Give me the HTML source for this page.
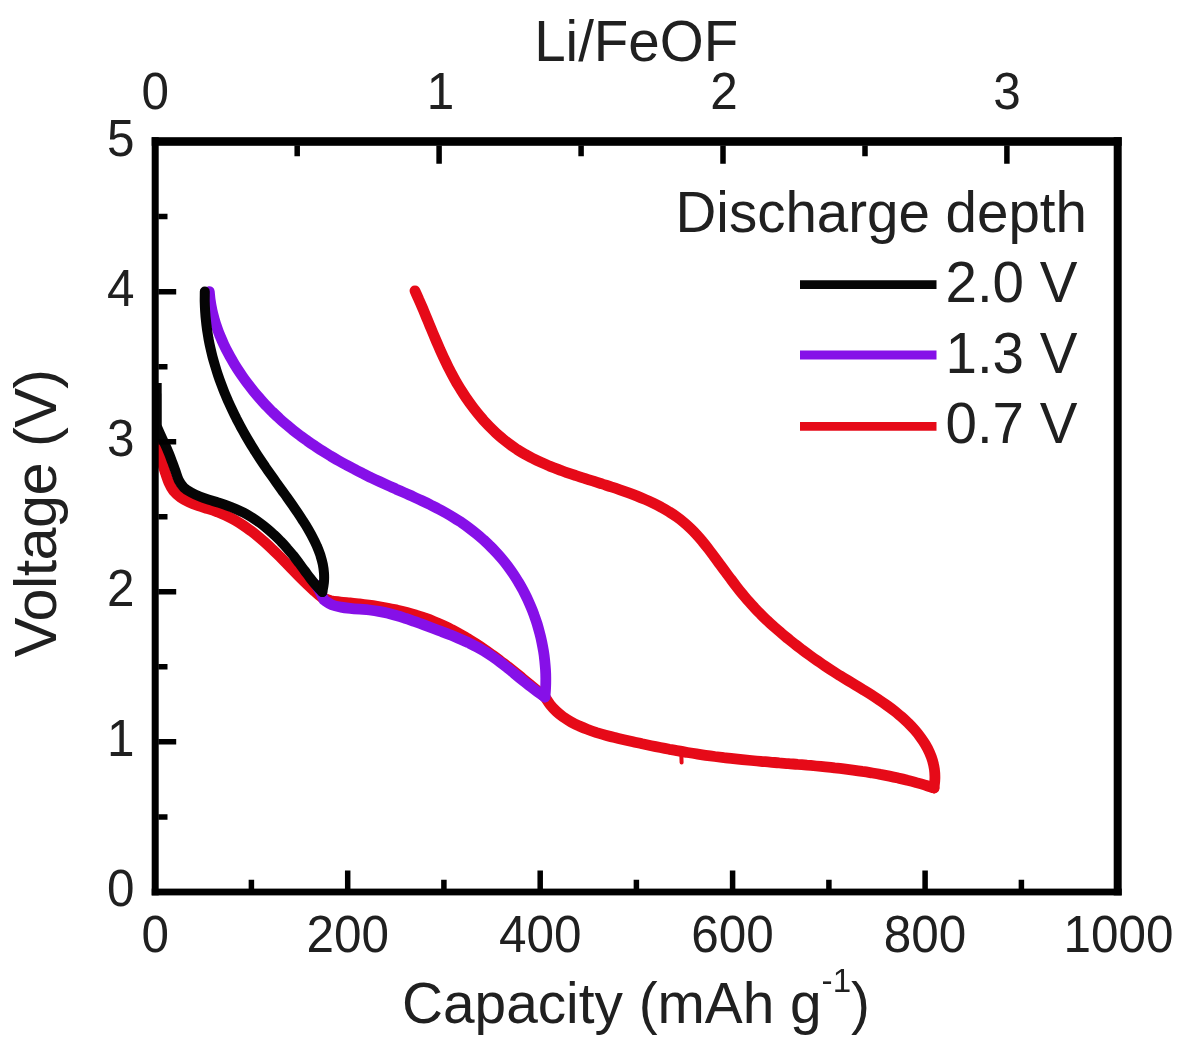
<!DOCTYPE html>
<html lang="en"><head><meta charset="utf-8"><title>Li/FeOF voltage profiles</title>
<style>html,body{margin:0;padding:0;background:#fff}body{width:1181px;height:1049px;overflow:hidden}svg{display:block;filter:blur(0.55px)}text{font-family:"Liberation Sans", sans-serif;fill:#202020}</style></head><body>
<svg width="1181" height="1049" viewBox="0 0 1181 1049">
<rect width="1181" height="1049" fill="#fff"/>
<g fill="none" stroke-linecap="round" stroke-linejoin="round">
<path stroke="#e60a18" stroke-width="10.8" d="M158.3 445.0 C158.6 446.6 159.5 451.4 160.3 454.6 C161.0 457.7 161.9 460.8 162.8 464.0 C163.6 467.1 164.6 470.2 165.6 473.3 C166.7 476.4 167.6 479.6 168.9 482.5 C170.2 485.4 171.6 488.4 173.6 490.9 C175.6 493.3 178.1 495.5 180.7 497.4 C183.3 499.3 186.2 500.8 189.2 502.2 C192.1 503.5 195.2 504.6 198.3 505.7 C201.4 506.8 204.7 507.7 207.8 508.7 C211.0 509.7 214.1 510.7 217.2 511.8 C220.3 513.0 223.3 514.3 226.2 515.6 C229.1 517.0 232.0 518.5 234.8 520.1 C237.6 521.7 240.3 523.4 243.0 525.2 C245.7 527.0 248.3 528.9 250.9 530.8 C253.5 532.8 256.0 534.8 258.5 536.9 C261.0 539.0 263.5 541.1 265.9 543.3 C268.3 545.5 270.7 547.7 273.0 550.0 C275.4 552.2 277.7 554.5 280.0 556.8 C282.3 559.2 284.5 561.5 286.8 563.8 C289.1 566.2 291.3 568.5 293.6 570.8 C295.9 573.2 298.1 575.5 300.4 577.8 C302.7 580.1 305.0 582.4 307.4 584.6 C309.7 586.8 312.1 589.0 314.5 591.2 C317.0 593.3 320.8 596.4 322.0 597.5 C323.5 598.0 327.9 599.9 330.9 600.7 C334.0 601.4 337.2 601.6 340.4 602.0 C343.6 602.4 346.8 602.6 349.9 602.9 C353.1 603.3 356.3 603.6 359.4 603.9 C362.6 604.3 365.7 604.7 368.9 605.1 C372.1 605.5 375.3 606.0 378.4 606.5 C381.6 607.0 384.8 607.6 388.0 608.2 C391.2 608.8 394.3 609.5 397.5 610.2 C400.6 610.9 403.8 611.7 406.9 612.5 C410.0 613.3 413.2 614.2 416.2 615.2 C419.3 616.1 422.4 617.2 425.4 618.2 C428.5 619.3 431.5 620.5 434.4 621.7 C437.4 622.9 440.3 624.2 443.2 625.5 C446.1 626.8 449.0 628.2 451.8 629.7 C454.6 631.1 457.5 632.7 460.2 634.2 C463.0 635.8 465.8 637.4 468.5 639.0 C471.2 640.7 473.9 642.4 476.6 644.1 C479.3 645.8 481.9 647.6 484.5 649.4 C487.2 651.2 489.8 653.1 492.4 655.0 C495.0 656.8 497.6 658.8 500.1 660.7 C502.7 662.6 505.2 664.6 507.8 666.5 C510.3 668.5 512.8 670.5 515.3 672.5 C517.8 674.5 520.3 676.6 522.8 678.6 C525.3 680.6 527.8 682.7 530.2 684.7 C532.7 686.8 535.2 688.8 537.6 690.9 C540.1 692.9 543.8 696.0 545.0 697.0 C545.9 698.3 548.4 702.4 550.3 704.8 C552.2 707.2 554.3 709.4 556.5 711.5 C558.7 713.6 561.1 715.4 563.5 717.2 C565.9 718.9 568.5 720.5 571.1 722.0 C573.8 723.5 576.5 724.8 579.3 726.0 C582.1 727.3 584.9 728.5 587.8 729.5 C590.7 730.6 593.6 731.6 596.6 732.6 C599.6 733.5 602.6 734.4 605.6 735.2 C608.6 736.0 611.6 736.8 614.7 737.5 C617.7 738.3 620.8 739.0 623.9 739.7 C626.9 740.4 630.0 741.1 633.0 741.8 C636.0 742.5 639.1 743.1 642.1 743.8 C645.1 744.4 648.2 745.1 651.2 745.7 C654.2 746.3 657.3 746.9 660.3 747.5 C663.3 748.1 666.3 748.7 669.3 749.3 C672.4 749.8 675.4 750.4 678.4 750.9 C681.4 751.5 684.5 752.0 687.5 752.5 C690.5 753.0 693.5 753.5 696.5 753.9 C699.6 754.4 702.6 754.9 705.6 755.3 C708.7 755.7 711.7 756.1 714.8 756.5 C717.8 756.9 720.8 757.3 723.9 757.7 C726.9 758.0 730.0 758.4 733.1 758.7 C736.1 759.0 739.2 759.3 742.3 759.6 C745.3 759.9 748.4 760.2 751.5 760.5 C754.5 760.8 757.6 761.1 760.7 761.3 C763.8 761.6 766.9 761.8 769.9 762.1 C773.0 762.4 776.1 762.6 779.2 762.9 C782.3 763.1 785.4 763.4 788.4 763.6 C791.5 763.9 794.6 764.1 797.7 764.4 C800.8 764.6 803.9 764.9 806.9 765.2 C810.0 765.4 813.1 765.7 816.2 766.0 C819.3 766.3 822.3 766.6 825.4 766.9 C828.5 767.2 831.6 767.5 834.6 767.9 C837.7 768.2 840.8 768.5 843.8 768.9 C846.9 769.3 850.0 769.7 853.0 770.1 C856.1 770.5 859.1 770.9 862.2 771.4 C865.2 771.8 868.3 772.3 871.3 772.8 C874.3 773.3 877.4 773.8 880.4 774.4 C883.4 774.9 886.4 775.5 889.4 776.1 C892.4 776.7 895.5 777.4 898.4 778.1 C901.4 778.7 904.4 779.4 907.4 780.2 C910.4 780.9 913.4 781.7 916.3 782.6 C919.3 783.4 922.2 784.2 925.2 785.1 C928.1 786.1 932.5 787.5 934.0 788.0"/>
<path stroke="#e60a18" stroke-width="10.8" d="M934.0 788.0 C934.2 786.4 934.9 781.6 934.9 778.4 C935.0 775.3 934.8 772.3 934.4 769.3 C934.0 766.3 933.3 763.4 932.5 760.6 C931.7 757.7 930.6 755.0 929.4 752.3 C928.2 749.6 926.8 746.9 925.3 744.4 C923.8 741.8 922.1 739.3 920.3 736.9 C918.5 734.4 916.6 732.1 914.6 729.8 C912.6 727.5 910.5 725.3 908.3 723.1 C906.1 721.0 903.9 718.9 901.6 716.9 C899.2 714.9 896.9 712.9 894.5 711.0 C892.1 709.1 889.6 707.3 887.1 705.5 C884.6 703.7 882.1 701.9 879.5 700.2 C876.9 698.4 874.3 696.8 871.7 695.1 C869.1 693.4 866.5 691.8 863.8 690.2 C861.2 688.5 858.5 686.9 855.9 685.3 C853.2 683.7 850.6 682.1 847.9 680.5 C845.3 678.9 842.6 677.3 840.0 675.7 C837.4 674.0 834.8 672.4 832.2 670.7 C829.7 669.1 827.1 667.4 824.6 665.7 C822.0 664.0 819.5 662.2 817.0 660.5 C814.5 658.8 812.0 657.0 809.6 655.2 C807.1 653.4 804.7 651.6 802.3 649.8 C799.8 647.9 797.4 646.1 795.0 644.2 C792.6 642.4 790.3 640.5 787.9 638.6 C785.5 636.6 783.2 634.7 780.9 632.7 C778.6 630.8 776.3 628.8 774.0 626.8 C771.7 624.7 769.5 622.7 767.2 620.6 C765.0 618.5 762.8 616.4 760.7 614.2 C758.5 612.1 756.4 609.9 754.3 607.6 C752.2 605.4 750.2 603.1 748.2 600.8 C746.1 598.5 744.2 596.1 742.2 593.7 C740.2 591.3 738.3 588.9 736.4 586.4 C734.5 584.0 732.6 581.5 730.8 579.0 C728.9 576.6 727.0 574.1 725.2 571.5 C723.3 569.0 721.5 566.5 719.6 564.0 C717.8 561.5 716.0 559.0 714.1 556.5 C712.2 554.0 710.4 551.4 708.5 549.0 C706.6 546.5 704.7 544.1 702.7 541.7 C700.8 539.3 698.8 537.0 696.8 534.8 C694.7 532.5 692.6 530.3 690.5 528.3 C688.3 526.2 686.1 524.2 683.8 522.3 C681.5 520.4 679.2 518.6 676.8 516.9 C674.4 515.2 671.9 513.5 669.4 512.0 C666.9 510.4 664.3 508.9 661.7 507.5 C659.1 506.0 656.5 504.7 653.8 503.4 C651.1 502.1 648.4 500.8 645.6 499.6 C642.8 498.4 640.0 497.2 637.2 496.1 C634.4 495.0 631.5 493.9 628.7 492.9 C625.8 491.8 622.9 490.8 620.0 489.8 C617.1 488.8 614.1 487.8 611.2 486.9 C608.3 485.9 605.3 485.0 602.3 484.0 C599.4 483.1 596.4 482.2 593.5 481.2 C590.5 480.3 587.5 479.4 584.6 478.4 C581.6 477.5 578.6 476.5 575.7 475.5 C572.8 474.6 569.8 473.6 566.9 472.6 C564.0 471.5 561.1 470.5 558.2 469.4 C555.3 468.3 552.5 467.2 549.6 466.1 C546.8 464.9 544.0 463.7 541.2 462.4 C538.5 461.2 535.7 459.9 533.0 458.5 C530.3 457.2 527.7 455.7 525.0 454.2 C522.4 452.8 519.8 451.2 517.3 449.6 C514.8 447.9 512.3 446.2 509.9 444.4 C507.5 442.6 505.1 440.8 502.8 438.9 C500.5 436.9 498.2 434.9 496.0 432.9 C493.7 430.8 491.6 428.7 489.4 426.5 C487.3 424.4 485.3 422.1 483.2 419.9 C481.2 417.6 479.2 415.3 477.3 412.9 C475.4 410.5 473.5 408.1 471.7 405.6 C469.8 403.2 468.1 400.7 466.3 398.1 C464.6 395.6 462.9 393.0 461.3 390.4 C459.7 387.8 458.1 385.2 456.5 382.6 C455.0 379.9 453.5 377.2 452.1 374.5 C450.6 371.9 449.3 369.1 447.9 366.4 C446.5 363.7 445.2 360.9 443.9 358.2 C442.6 355.4 441.4 352.6 440.1 349.9 C438.9 347.1 437.7 344.3 436.5 341.5 C435.3 338.7 434.1 335.9 432.9 333.0 C431.7 330.2 430.6 327.4 429.4 324.6 C428.2 321.8 427.1 318.9 425.9 316.1 C424.7 313.3 423.6 310.5 422.4 307.6 C421.2 304.8 420.0 302.0 418.7 299.2 C417.5 296.4 415.6 292.2 415.0 290.8"/>
<path stroke="#e60a18" stroke-width="4" d="M681.4 757.0 L681.6 762.5"/>
<path stroke="#8610e8" stroke-width="10.8" d="M316.1 584.8 C316.4 585.3 317.3 586.7 317.9 587.7 C318.5 588.7 319.0 589.7 319.6 590.7 C320.1 591.7 320.6 592.7 321.1 593.8 C321.7 594.8 322.1 595.8 322.6 596.9 C323.1 597.9 323.8 599.5 324.0 600.0 C325.3 600.8 329.1 603.7 331.9 604.9 C334.7 606.1 337.8 606.6 340.9 607.1 C343.9 607.7 347.1 608.0 350.3 608.3 C353.4 608.7 356.6 608.9 359.8 609.1 C363.0 609.4 366.2 609.6 369.4 610.0 C372.6 610.4 375.7 610.8 378.8 611.4 C381.9 612.0 385.0 612.6 388.1 613.3 C391.1 614.1 394.1 614.9 397.2 615.8 C400.2 616.6 403.2 617.6 406.1 618.5 C409.1 619.5 412.1 620.6 415.1 621.6 C418.0 622.7 421.0 623.8 423.9 624.9 C426.9 626.0 429.9 627.1 432.8 628.2 C435.8 629.3 438.8 630.4 441.7 631.6 C444.7 632.7 447.6 633.8 450.6 635.0 C453.5 636.2 456.5 637.4 459.4 638.7 C462.3 639.9 465.2 641.2 468.0 642.5 C470.8 643.9 473.7 645.3 476.4 646.8 C479.2 648.3 481.9 649.8 484.6 651.4 C487.3 653.1 489.9 654.8 492.5 656.6 C495.1 658.4 497.6 660.2 500.1 662.1 C502.7 664.0 505.1 666.0 507.6 668.0 C510.1 669.9 512.5 671.9 515.0 674.0 C517.4 676.0 519.8 678.0 522.3 680.0 C524.8 682.0 527.2 684.0 529.7 685.9 C532.2 687.9 534.7 689.8 537.2 691.6 C539.8 693.5 543.7 696.1 545.0 697.0"/>
<path stroke="#8610e8" stroke-width="10.8" d="M545.0 697.0 C545.1 695.5 545.5 690.9 545.6 687.9 C545.8 684.8 545.8 681.8 545.8 678.7 C545.8 675.7 545.7 672.6 545.5 669.5 C545.3 666.5 545.0 663.4 544.7 660.4 C544.4 657.3 544.0 654.2 543.5 651.2 C543.0 648.1 542.4 645.1 541.8 642.1 C541.2 639.1 540.5 636.0 539.7 633.1 C538.9 630.1 538.1 627.1 537.2 624.1 C536.2 621.2 535.3 618.2 534.2 615.3 C533.2 612.4 532.0 609.5 530.8 606.7 C529.6 603.8 528.4 601.0 527.1 598.2 C525.7 595.4 524.3 592.7 522.9 589.9 C521.4 587.2 519.9 584.5 518.3 581.9 C516.8 579.3 515.1 576.7 513.4 574.1 C511.7 571.6 509.9 569.1 508.1 566.6 C506.3 564.2 504.4 561.8 502.4 559.4 C500.5 557.1 498.4 554.8 496.4 552.6 C494.3 550.3 492.2 548.1 490.0 546.0 C487.9 543.8 485.6 541.8 483.4 539.7 C481.1 537.7 478.8 535.7 476.4 533.8 C474.1 531.9 471.7 530.0 469.2 528.1 C466.8 526.3 464.3 524.5 461.8 522.8 C459.2 521.1 456.7 519.4 454.1 517.8 C451.5 516.2 448.8 514.6 446.2 513.1 C443.5 511.6 440.8 510.1 438.1 508.7 C435.4 507.2 432.6 505.9 429.9 504.5 C427.1 503.1 424.3 501.8 421.5 500.5 C418.8 499.2 415.9 498.0 413.1 496.7 C410.3 495.4 407.5 494.2 404.7 492.9 C401.9 491.7 399.0 490.4 396.2 489.2 C393.4 487.9 390.6 486.7 387.8 485.4 C385.0 484.1 382.2 482.8 379.4 481.5 C376.6 480.2 373.8 478.9 371.0 477.6 C368.3 476.2 365.5 474.9 362.8 473.5 C360.0 472.1 357.3 470.8 354.6 469.3 C351.9 467.9 349.2 466.5 346.5 465.0 C343.8 463.6 341.1 462.1 338.5 460.6 C335.8 459.1 333.2 457.5 330.6 456.0 C328.0 454.4 325.4 452.8 322.8 451.2 C320.2 449.6 317.7 447.9 315.2 446.2 C312.6 444.6 310.1 442.9 307.7 441.1 C305.2 439.3 302.7 437.6 300.3 435.7 C297.9 433.9 295.5 432.1 293.1 430.2 C290.7 428.3 288.4 426.3 286.1 424.4 C283.7 422.4 281.4 420.4 279.2 418.3 C276.9 416.2 274.7 414.1 272.5 412.0 C270.3 409.8 268.2 407.6 266.0 405.4 C263.9 403.2 261.8 400.9 259.8 398.5 C257.7 396.2 255.7 393.9 253.7 391.4 C251.8 389.0 249.9 386.6 248.0 384.1 C246.1 381.6 244.3 379.1 242.5 376.5 C240.7 374.0 239.0 371.4 237.3 368.8 C235.6 366.1 234.0 363.5 232.5 360.8 C230.9 358.1 229.4 355.4 228.0 352.7 C226.5 349.9 225.1 347.2 223.8 344.4 C222.5 341.6 221.3 338.8 220.1 336.0 C218.9 333.1 217.9 330.3 216.9 327.4 C215.8 324.5 214.9 321.6 214.1 318.7 C213.3 315.7 212.5 312.8 211.9 309.8 C211.2 306.8 210.7 303.8 210.3 300.8 C209.8 297.7 209.5 293.1 209.3 291.6"/>
<path stroke="#050505" stroke-width="10.0" d="M157.5 428.0 C158.1 429.4 160.0 433.7 161.3 436.6 C162.6 439.4 164.0 442.2 165.3 445.0 C166.6 447.8 167.8 450.7 169.0 453.6 C170.2 456.5 171.2 459.4 172.3 462.3 C173.4 465.3 174.4 468.2 175.5 471.1 C176.5 474.1 177.3 477.4 178.7 480.1 C180.1 482.8 181.8 485.5 183.9 487.6 C186.0 489.7 188.8 491.2 191.5 492.7 C194.2 494.2 197.1 495.4 200.1 496.6 C203.0 497.7 206.0 498.7 209.0 499.7 C212.0 500.7 215.0 501.5 218.0 502.5 C221.0 503.5 223.9 504.4 226.9 505.5 C229.8 506.5 232.7 507.6 235.5 508.8 C238.4 510.0 241.2 511.4 243.9 512.8 C246.7 514.3 249.4 515.9 252.0 517.5 C254.6 519.2 257.2 521.0 259.7 522.8 C262.3 524.7 264.7 526.6 267.1 528.6 C269.5 530.6 271.9 532.7 274.1 534.8 C276.4 536.9 278.6 539.1 280.8 541.4 C283.0 543.6 285.1 545.9 287.1 548.3 C289.2 550.6 291.2 553.0 293.2 555.4 C295.1 557.9 297.0 560.4 298.9 562.9 C300.7 565.4 302.6 567.9 304.4 570.4 C306.3 572.9 308.1 575.4 310.0 577.9 C311.9 580.4 313.8 582.8 315.9 585.2 C317.9 587.5 321.2 590.9 322.3 592.0"/>
<path stroke="#050505" stroke-width="10.0" d="M322.3 592.0 C322.6 590.4 323.6 585.7 323.9 582.6 C324.2 579.5 324.2 576.4 324.0 573.3 C323.8 570.3 323.4 567.2 322.8 564.2 C322.2 561.2 321.3 558.2 320.4 555.2 C319.4 552.3 318.3 549.3 317.0 546.4 C315.8 543.5 314.4 540.6 312.9 537.8 C311.4 534.9 309.8 532.1 308.2 529.3 C306.6 526.5 304.9 523.8 303.1 521.1 C301.4 518.3 299.7 515.7 297.9 513.0 C296.1 510.4 294.3 507.8 292.5 505.2 C290.7 502.6 288.9 500.0 287.1 497.5 C285.3 494.9 283.4 492.4 281.6 489.8 C279.8 487.3 278.0 484.8 276.2 482.3 C274.4 479.7 272.6 477.2 270.8 474.7 C269.0 472.1 267.2 469.6 265.4 467.0 C263.7 464.5 261.9 461.9 260.2 459.3 C258.5 456.7 256.8 454.0 255.1 451.4 C253.5 448.7 251.8 446.1 250.2 443.4 C248.6 440.7 247.0 438.0 245.4 435.2 C243.9 432.5 242.3 429.7 240.8 427.0 C239.3 424.2 237.9 421.4 236.4 418.6 C235.0 415.8 233.6 412.9 232.3 410.1 C230.9 407.2 229.6 404.4 228.3 401.5 C227.1 398.6 225.8 395.7 224.6 392.8 C223.4 389.9 222.3 387.0 221.2 384.0 C220.1 381.1 219.0 378.1 218.0 375.1 C217.0 372.1 216.1 369.1 215.2 366.1 C214.3 363.1 213.4 360.1 212.6 357.1 C211.8 354.0 211.1 351.0 210.4 347.9 C209.7 344.9 209.1 341.8 208.5 338.7 C208.0 335.6 207.5 332.5 207.0 329.4 C206.6 326.3 206.2 323.2 205.9 320.0 C205.5 316.9 205.3 313.8 205.1 310.6 C204.9 307.5 204.8 304.3 204.7 301.1 C204.7 298.0 204.8 293.2 204.8 291.6"/>
<path stroke="#050505" stroke-width="8.6" stroke-linecap="butt" d="M157.4 383.0 L157.5 432.0"/>
</g>
<g fill="#000">
<rect x="151.7" y="137.2" width="7" height="758.2"/>
<rect x="1113.7" y="137.2" width="8" height="758.2"/>
<rect x="151.7" y="137.2" width="970" height="8.6"/>
<rect x="151.7" y="888.6" width="970" height="6.8"/>
</g>
<path d="M251.4 889 V879.8 M347.7 889 V870.6 M443.9 889 V879.8 M540.2 889 V870.6 M636.4 889 V879.8 M732.6 889 V870.6 M828.9 889 V879.8 M925.1 889 V870.6 M1021.4 889 V879.8 M297.2 145.5 V156.3 M439.1 145.5 V163.8 M581.1 145.5 V156.3 M723.0 145.5 V163.8 M865.0 145.5 V156.3 M1006.9 145.5 V163.8 M158.4 816.9 H167.5 M158.4 741.8 H176.2 M158.4 666.8 H167.5 M158.4 591.8 H176.2 M158.4 516.8 H167.5 M158.4 441.7 H176.2 M158.4 366.7 H167.5 M158.4 291.7 H176.2 M158.4 216.6 H167.5" stroke="#000" stroke-width="5.5" fill="none"/>
<text transform="translate(155.2 952.0) scale(0.960 1)" font-size="51.5" text-anchor="middle">0</text>
<text transform="translate(347.7 952.0) scale(0.960 1)" font-size="51.5" text-anchor="middle">200</text>
<text transform="translate(540.2 952.0) scale(0.960 1)" font-size="51.5" text-anchor="middle">400</text>
<text transform="translate(732.6 952.0) scale(0.960 1)" font-size="51.5" text-anchor="middle">600</text>
<text transform="translate(925.1 952.0) scale(0.960 1)" font-size="51.5" text-anchor="middle">800</text>
<text transform="translate(1118.6 952.0) scale(0.960 1)" font-size="51.5" text-anchor="middle">1000</text>
<text transform="translate(155.2 109.0) scale(0.960 1)" font-size="51.5" text-anchor="middle">0</text>
<text transform="translate(440.6 109.0) scale(0.960 1)" font-size="51.5" text-anchor="middle">1</text>
<text transform="translate(724.0 109.0) scale(0.960 1)" font-size="51.5" text-anchor="middle">2</text>
<text transform="translate(1006.9 109.0) scale(0.960 1)" font-size="51.5" text-anchor="middle">3</text>
<text transform="translate(134.5 905.9) scale(0.960 1)" font-size="51.5" text-anchor="end">0</text>
<text transform="translate(134.5 755.8) scale(0.960 1)" font-size="51.5" text-anchor="end">1</text>
<text transform="translate(134.5 605.8) scale(0.960 1)" font-size="51.5" text-anchor="end">2</text>
<text transform="translate(134.5 455.7) scale(0.960 1)" font-size="51.5" text-anchor="end">3</text>
<text transform="translate(134.5 305.7) scale(0.960 1)" font-size="51.5" text-anchor="end">4</text>
<text transform="translate(134.5 155.6) scale(0.960 1)" font-size="51.5" text-anchor="end">5</text>
<text transform="translate(636.2 61.2) scale(1.000 1)" font-size="56.5" text-anchor="middle">Li/FeOF</text>
<text transform="translate(402.0 1023.3) scale(1.005 1)" font-size="56.5" text-anchor="start">Capacity (mAh g<tspan font-size="33" dy="-31.5">-1</tspan><tspan dy="31.5">)</tspan></text>
<text transform="translate(55.8 657.3) rotate(-90)" font-size="59.5" text-anchor="start" textLength="288.5" lengthAdjust="spacing">Voltage (V)</text>
<text transform="translate(1087.0 232.3) scale(1.000 1)" font-size="56.5" text-anchor="end">Discharge depth</text>
<text transform="translate(945.5 302.4) scale(1.000 1)" font-size="56.5" text-anchor="start">2.0 V</text>
<text transform="translate(945.5 372.6) scale(1.000 1)" font-size="56.5" text-anchor="start">1.3 V</text>
<text transform="translate(945.5 442.7) scale(1.000 1)" font-size="56.5" text-anchor="start">0.7 V</text>
<g stroke-width="8.8" fill="none">
<path stroke="#050505" d="M800 284.7 H936.5"/>
<path stroke="#8610e8" d="M800 355 H936.5"/>
<path stroke="#e60a18" d="M800 426.3 H936.5"/>
</g>
</svg></body></html>
